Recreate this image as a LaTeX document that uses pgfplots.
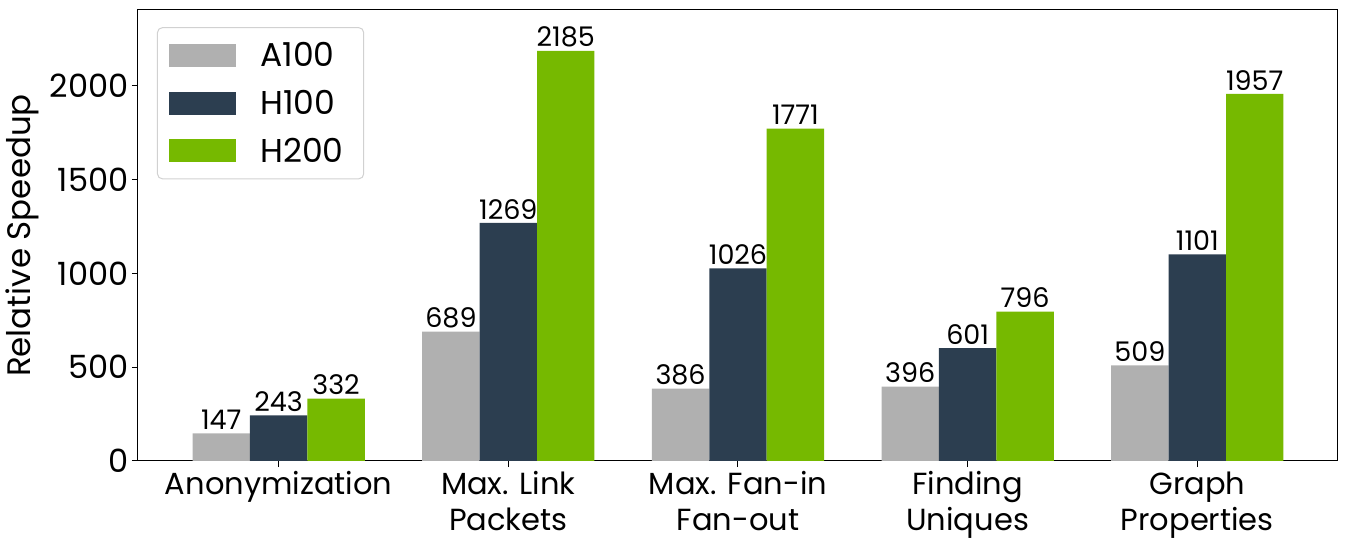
\documentclass[border=0pt]{standalone}
\usepackage{pgfplots}
\pgfplotsset{compat=1.18}
\usepackage{fontspec}
\setmainfont{Poppins}
\definecolor{cA}{HTML}{B0B0B0}
\definecolor{cHa}{HTML}{2C3E50}
\definecolor{cHb}{HTML}{76B900}
\begin{document}
\begin{tikzpicture}
\begin{axis}[
  scale only axis, width=1200pt, height=451pt,
  xmin=-0.6125, xmax=4.6125, ymin=0, ymax=2403.5,
  ybar=0pt, bar width=57.4pt,
  axis line style={line width=1pt},
  xtick={0,1,2,3,4},
  xticklabels={Anonymization, Max. Link\\Packets, Max. Fan-in\\Fan-out, Finding\\Uniques, Graph\\Properties},
  xticklabel style={align=center, font=\fontsize{30.5}{36}\selectfont, yshift=-1pt},
  ytick={0,500,1000,1500,2000},
  yticklabel style={font=\fontsize{32}{36}\selectfont},
  /pgf/number format/assume math mode=true,
  /pgf/number format/1000 sep={},
  ylabel={Relative Speedup},
  ylabel style={font=\fontsize{32.5}{36}\selectfont, yshift=4pt},
  tick align=outside, major tick length=6pt,
  tick style={black, line width=1pt},
  xtick pos=bottom, ytick pos=left,
  nodes near coords,
  nodes near coords style={font=\fontsize{27}{30}\selectfont, black, inner sep=3.5pt, /pgf/number format/assume math mode=true},
  legend style={at={(0.0158,0.962)}, anchor=north west, draw=black!18, rounded corners=5pt,
    font=\fontsize{33}{36}\selectfont, row sep=18pt, inner xsep=12pt, inner ysep=13pt, line width=1pt},
  legend cell align=left,
  legend image code/.code={\fill[#1, sharp corners] (0pt,-11.5pt) rectangle (67pt,11.5pt);},
  legend style={nodes={inner xsep=8pt}},
  legend style={/tikz/every odd column/.append style={column sep=16pt}},
]
\addplot[fill=cA, draw=none] coordinates {(0,147) (1,689) (2,386) (3,396) (4,509)};
\addplot[fill=cHa, draw=none] coordinates {(0,243) (1,1269) (2,1026) (3,601) (4,1101)};
\addplot[fill=cHb, draw=none] coordinates {(0,332) (1,2185) (2,1771) (3,796) (4,1957)};
\legend{A100, H100, H200}
\end{axis}
\pgfresetboundingbox
\path (current axis.south west) ++(-138pt,-87pt) rectangle ++(1348pt,548pt);
\end{tikzpicture}
\end{document}
